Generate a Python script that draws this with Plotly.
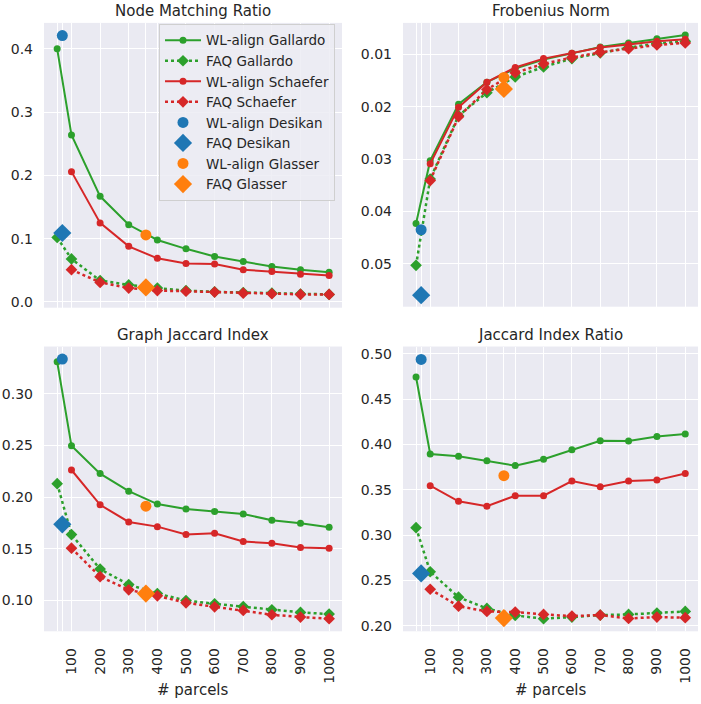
import plotly.graph_objects as go

# ---------------- data ----------------
x_gallardo = [50, 100, 200, 300, 400, 500, 600, 700, 800, 900, 1000]
x_schaefer = [100, 200, 300, 400, 500, 600, 700, 800, 900, 1000]
x_desikan = [68]
x_glasser = [360]

panel_titles = ["Node Matching Ratio", "Frobenius Norm", "Graph Jaccard Index", "Jaccard Index Ratio"]

# Node Matching Ratio
nmr_wl_gallardo = [0.400, 0.264, 0.167, 0.122, 0.098, 0.084, 0.072, 0.064, 0.056, 0.051, 0.047]
nmr_faq_gallardo = [0.102, 0.068, 0.034, 0.027, 0.022, 0.018, 0.016, 0.015, 0.014, 0.0125, 0.012]
nmr_wl_schaefer = [0.206, 0.125, 0.088, 0.069, 0.061, 0.060, 0.051, 0.048, 0.044, 0.042]
nmr_faq_schaefer = [0.051, 0.031, 0.022, 0.018, 0.017, 0.0157, 0.014, 0.013, 0.012, 0.012]
nmr_wl_desikan = [0.421]
nmr_faq_desikan = [0.109]
nmr_wl_glasser = [0.106]
nmr_faq_glasser = [0.023]

# Frobenius Norm
fro_wl_gallardo = [0.0423, 0.0303, 0.0195, 0.0153, 0.0127, 0.0110, 0.0098, 0.0086, 0.0078, 0.0070, 0.0063]
fro_faq_gallardo = [0.0503, 0.0338, 0.0217, 0.0173, 0.0143, 0.0124, 0.0108, 0.0097, 0.0087, 0.0079, 0.0075]
fro_wl_schaefer = [0.0309, 0.0201, 0.0153, 0.0125, 0.0108, 0.0098, 0.0087, 0.0081, 0.0075, 0.0071]
fro_faq_schaefer = [0.0341, 0.0219, 0.0167, 0.0135, 0.0118, 0.0106, 0.0096, 0.0089, 0.0082, 0.0078]
fro_wl_desikan = [0.0435]
fro_faq_desikan = [0.0560]
fro_wl_glasser = [0.0144]
fro_faq_glasser = [0.0166]

# Graph Jaccard Index
gji_wl_gallardo = [0.3311, 0.2497, 0.2228, 0.2058, 0.1933, 0.1885, 0.1862, 0.1837, 0.1776, 0.1747, 0.1708]
gji_faq_gallardo = [0.2131, 0.1638, 0.1304, 0.1154, 0.1067, 0.1000, 0.0968, 0.0942, 0.0910, 0.0885, 0.0869]
gji_wl_schaefer = [0.2263, 0.1926, 0.1760, 0.1715, 0.1638, 0.1651, 0.1571, 0.1554, 0.1513, 0.1506]
gji_faq_schaefer = [0.1506, 0.1231, 0.1103, 0.1045, 0.0978, 0.0939, 0.0904, 0.0862, 0.0840, 0.0824]
gji_wl_desikan = [0.3337]
gji_faq_desikan = [0.1737]
gji_wl_glasser = [0.1913]
gji_faq_glasser = [0.1067]

# Jaccard Index Ratio
jir_wl_gallardo = [0.4744, 0.3894, 0.3869, 0.3821, 0.3766, 0.3836, 0.3942, 0.4041, 0.4037, 0.4088, 0.4114]
jir_faq_gallardo = [0.3081, 0.2595, 0.2314, 0.2190, 0.2113, 0.2077, 0.2095, 0.2117, 0.2124, 0.2139, 0.2157]
jir_wl_schaefer = [0.3544, 0.3372, 0.3317, 0.3434, 0.3434, 0.3595, 0.3533, 0.3595, 0.3606, 0.3680]
jir_faq_schaefer = [0.2402, 0.2215, 0.2157, 0.2150, 0.2124, 0.2106, 0.2117, 0.2080, 0.2095, 0.2088]
jir_wl_desikan = [0.4938]
jir_faq_desikan = [0.2577]
jir_wl_glasser = [0.3655]
jir_faq_glasser = [0.2084]

x_tickvals = [50, 68, 100, 200, 300, 360, 400, 500, 600, 700, 800, 900, 1000]
x_ticktext = ["", "", "100", "200", "300", "", "400", "500", "600", "700", "800", "900", "1000"]

# ---------------- styling ----------------
GREEN, RED, BLUE, ORANGE = "#2ca02c", "#d62728", "#1f77b4", "#ff7f0e"
BG = "#EAEAF2"
TXT = "#262626"
FONT = "DejaVu Sans"
W, H = 701, 704

panels = [
    dict(data=(nmr_wl_gallardo, nmr_faq_gallardo, nmr_wl_schaefer, nmr_faq_schaefer,
               nmr_wl_desikan, nmr_faq_desikan, nmr_wl_glasser, nmr_faq_glasser),
         xpx=(44, 342), ypx=(22, 308), yrange=[-0.009, 0.441], ytick=[0.0, 0.1, 0.2, 0.3, 0.4], fmt=".1f"),
    dict(data=(fro_wl_gallardo, fro_faq_gallardo, fro_wl_schaefer, fro_faq_schaefer,
               fro_wl_desikan, fro_faq_desikan, fro_wl_glasser, fro_faq_glasser),
         xpx=(403, 698), ypx=(22, 307), yrange=[0.0582, 0.00398], ytick=[0.01, 0.02, 0.03, 0.04, 0.05], fmt=".2f"),
    dict(data=(gji_wl_gallardo, gji_faq_gallardo, gji_wl_schaefer, gji_faq_schaefer,
               gji_wl_desikan, gji_faq_desikan, gji_wl_glasser, gji_faq_glasser),
         xpx=(44, 342), ypx=(347, 633), yrange=[0.0702, 0.3458], ytick=[0.10, 0.15, 0.20, 0.25, 0.30], fmt=".2f"),
    dict(data=(jir_wl_gallardo, jir_faq_gallardo, jir_wl_schaefer, jir_faq_schaefer,
               jir_wl_desikan, jir_faq_desikan, jir_wl_glasser, jir_faq_glasser),
         xpx=(403, 698), ypx=(347, 633), yrange=[0.1938, 0.508], ytick=[0.20, 0.25, 0.30, 0.35, 0.40, 0.45, 0.50], fmt=".2f"),
]

names = ["WL-align Gallardo", "FAQ Gallardo", "WL-align Schaefer", "FAQ Schaefer",
         "WL-align Desikan", "FAQ Desikan", "WL-align Glasser", "FAQ Glasser"]
xs = [x_gallardo, x_gallardo, x_schaefer, x_schaefer, x_desikan, x_desikan, x_glasser, x_glasser]
styles = [
    dict(mode="lines+markers", line=dict(color=GREEN, width=2), marker=dict(symbol="circle", size=7, color=GREEN)),
    dict(mode="lines+markers", line=dict(color=GREEN, width=2.5, dash="dot"), marker=dict(symbol="diamond", size=9, color=GREEN)),
    dict(mode="lines+markers", line=dict(color=RED, width=2), marker=dict(symbol="circle", size=7, color=RED)),
    dict(mode="lines+markers", line=dict(color=RED, width=2.5, dash="dot"), marker=dict(symbol="diamond", size=9, color=RED)),
    dict(mode="markers", marker=dict(symbol="circle", size=11, color=BLUE)),
    dict(mode="markers", marker=dict(symbol="diamond", size=14, color=BLUE)),
    dict(mode="markers", marker=dict(symbol="circle", size=11, color=ORANGE)),
    dict(mode="markers", marker=dict(symbol="diamond", size=14, color=ORANGE)),
]

fig = go.Figure()
annotations = []
for i, p in enumerate(panels):
    ax = "" if i == 0 else str(i + 1)
    xa, ya = "x" + ax, "y" + ax
    for k in range(8):
        fig.add_trace(go.Scatter(x=xs[k], y=p["data"][k], name=names[k], xaxis=xa, yaxis=ya,
                                 showlegend=(i == 0), cliponaxis=False, **styles[k]))
    x0, x1 = p["xpx"]
    y0, y1 = p["ypx"]
    xdom = [x0 / W, x1 / W]
    ydom = [1 - y1 / H, 1 - y0 / H]
    bottom = i >= 2
    fig.update_layout(**{
        "xaxis" + ax: dict(domain=xdom, range=[4, 1045], tickvals=x_tickvals,
                           ticktext=x_ticktext if bottom else [""] * len(x_tickvals),
                           tickangle=-90, showgrid=True, gridcolor="white", gridwidth=1.2,
                           zeroline=False, showline=False, ticks="", ticklabelstandoff=13,
                           tickfont=dict(size=14, color=TXT, family=FONT), anchor=ya),
        "yaxis" + ax: dict(domain=ydom, range=p["yrange"], tickvals=p["ytick"], tickformat=p["fmt"],
                           showgrid=True, gridcolor="white", gridwidth=1.2, zeroline=False, showline=False,
                           ticks="", ticklabelstandoff=10,
                           tickfont=dict(size=14, color=TXT, family=FONT), anchor=xa),
    })
    annotations.append(dict(text=panel_titles[i], x=(xdom[0] + xdom[1]) / 2, y=1 - (y0 - 12) / H,
                            xref="paper", yref="paper", xanchor="center", yanchor="middle",
                            showarrow=False, font=dict(size=15, color=TXT, family=FONT)))
    if bottom:
        annotations.append(dict(text="# parcels", x=(xdom[0] + xdom[1]) / 2, y=1 - 692 / H,
                                xref="paper", yref="paper", xanchor="center", yanchor="middle",
                                showarrow=False, font=dict(size=15, color=TXT, family=FONT)))

fig.update_layout(
    width=W, height=H,
    margin=dict(l=0, r=0, t=0, b=0),
    paper_bgcolor="white",
    plot_bgcolor=BG,
    font=dict(family=FONT, color=TXT, size=14),
    annotations=annotations,
    legend=dict(x=335 / W, y=1 - 23 / H, xanchor="right", yanchor="top",
                bgcolor="rgba(236,236,243,0.85)", bordercolor="#cfcfcf", borderwidth=1,
                font=dict(size=13.5, color=TXT, family=FONT), itemwidth=36, tracegroupgap=0),
)

fig.write_html("out.html", config={"displayModeBar": False},
               post_script="document.body.style.margin='0';document.body.style.overflow='hidden';")
